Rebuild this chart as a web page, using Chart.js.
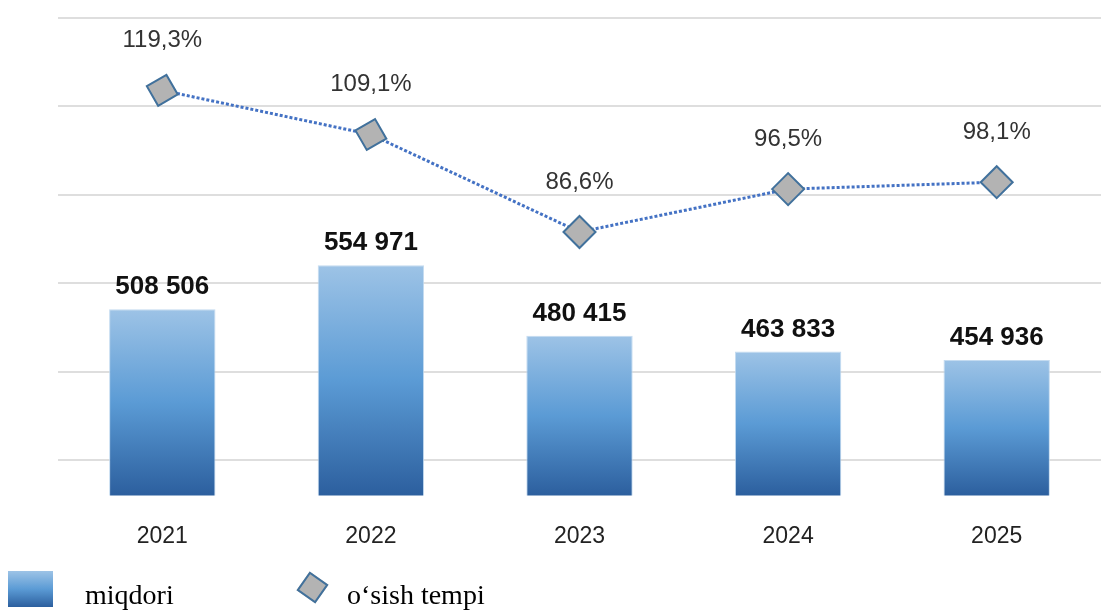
<!DOCTYPE html>
<html>
<head>
<meta charset="utf-8">
<script src="https://cdn.jsdelivr.net/npm/chart.js@4"></script>
<style>
  html, body { margin: 0; padding: 0; background: #ffffff; }
  #wrap { position: absolute; left: 0; top: 0; width: 1119px; height: 589px; }
  .lg { position: absolute; font-family: "Liberation Serif", "Times New Roman", serif; font-size: 28px; color: #000; line-height: 1; }
  #sq { position: absolute; left: 8px; top: 571px; width: 45px; height: 36px;
        background: linear-gradient(#9dc3e6, #5b9bd5 50%, #2c5f9e); }
  #dm { position: absolute; left: 301px; top: 576px; width: 19px; height: 19px;
        background: #b3b3b3; border: 2px solid #41719c; transform: rotate(35deg); }
</style>
</head>
<body>
<div id="wrap"><canvas id="c"></canvas></div>
<div id="sq"></div>
<div class="lg" style="left:85px; top:581px;">miqdori</div>
<div id="dm"></div>
<div class="lg" style="left:347px; top:581px;">o‘sish tempi</div>
<script>
const categories = ['2021', '2022', '2023', '2024', '2025'];
const miqdori = [508506, 554971, 480415, 463833, 454936];
const osishTempi = [119.3, 109.1, 86.6, 96.5, 98.1];
const markerRotation = [15, 15, 0, 0, 0];

const fmtInt = v => String(v).replace(/\B(?=(\d{3})+(?!\d))/g, ' ');
const fmtPct = v => v.toFixed(1).replace('.', ',') + '%';

const labelPlugin = {
  id: 'valueLabels',
  afterDatasetsDraw(chart) {
    const ctx = chart.ctx;
    ctx.save();
    ctx.textAlign = 'center';
    ctx.textBaseline = 'middle';
    const mb = chart.getDatasetMeta(0);
    ctx.font = 'bold 26px "Liberation Sans", Arial, sans-serif';
    ctx.fillStyle = '#111111';
    mb.data.forEach((el, i) => {
      ctx.fillText(fmtInt(miqdori[i]), el.x, el.y - 22);
    });
    const ml = chart.getDatasetMeta(1);
    ctx.font = '24px "Liberation Sans", Arial, sans-serif';
    ctx.fillStyle = '#333333';
    ml.data.forEach((el, i) => {
      ctx.fillText(fmtPct(osishTempi[i]), el.x, el.y - 50);
    });
    ctx.restore();
  }
};

function barGradient(c) {
  const chart = c.chart;
  const area = chart.chartArea;
  if (!area || !chart.scales.y) return '#5b9bd5';
  const top = chart.scales.y.getPixelForValue(c.raw);
  const g = chart.ctx.createLinearGradient(0, top, 0, area.bottom);
  g.addColorStop(0, '#9dc3e6');
  g.addColorStop(0.5, '#5b9bd5');
  g.addColorStop(1, '#2c5f9e');
  return g;
}

new Chart(document.getElementById('c'), {
  data: {
    labels: categories,
    datasets: [
      {
        type: 'bar',
        label: 'miqdori',
        data: miqdori,
        yAxisID: 'y',
        order: 1,
        backgroundColor: barGradient,
        borderColor: 'rgba(190,215,238,0.9)',
        borderWidth: 1,
        barPercentage: 0.51,
        categoryPercentage: 1.0
      },
      {
        type: 'line',
        label: 'o‘sish tempi',
        data: osishTempi,
        yAxisID: 'y1',
        order: 0,
        borderColor: '#4472c4',
        borderWidth: 3,
        borderDash: [3, 2],
        tension: 0,
        pointStyle: 'rectRot',
        pointRadius: 16,
        pointHoverRadius: 16,
        pointRotation: markerRotation,
        pointBackgroundColor: '#b3b3b3',
        pointBorderColor: '#41719c',
        pointBorderWidth: 2
      }
    ]
  },
  options: {
    responsive: true,
    maintainAspectRatio: false,
    animation: false,
    layout: { padding: { left: 58, right: 7, top: 13, bottom: 12 } },
    plugins: { legend: { display: false }, tooltip: { enabled: false } },
    scales: {
      x: {
        grid: { display: false, drawTicks: false },
        border: { display: false },
        ticks: { color: '#222222', padding: 27, font: { family: '"Liberation Sans", Arial, sans-serif', size: 23 } }
      },
      y: { display: false, min: 312000, max: 816000 },
      y1: { display: false, min: 25.8, max: 136 },
      g: {
        position: 'left',
        min: 0, max: 5.4, reverse: true,
        ticks: { display: false, stepSize: 1 },
        border: { display: false },
        grid: {
          drawTicks: false,
          lineWidth: 2,
          color: c => (c.tick && c.tick.value > 5.01) ? 'rgba(0,0,0,0)' : '#dedede'
        }
      }
    }
  },
  plugins: [labelPlugin]
});
</script>
</body>
</html>
